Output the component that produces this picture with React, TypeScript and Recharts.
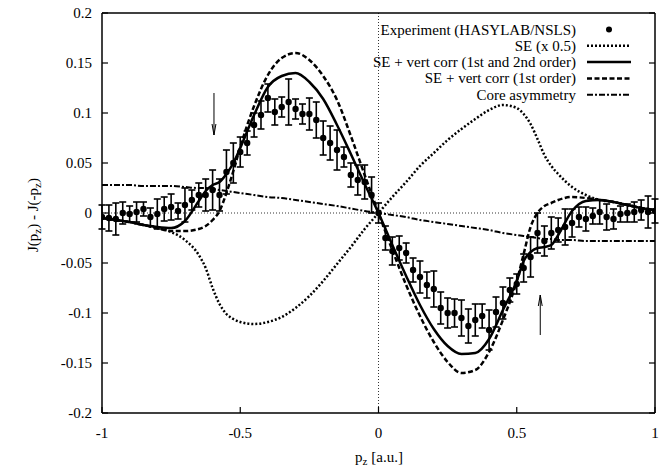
import { ComposedChart, Line, Scatter, ErrorBar, XAxis, YAxis, ReferenceLine } from "recharts";

const FONT = "'Liberation Serif', 'Times New Roman', serif";

// theory curves, sampled on a common p_z grid
const curveX = [
  -1, -0.95, -0.9, -0.85, -0.8, -0.75, -0.7, -0.65, -0.625, -0.6, -0.575, -0.55, -0.525, -0.5,
  -0.45, -0.4, -0.35, -0.3, -0.25, -0.2, -0.15, -0.1, -0.05, 0,
  0.05, 0.1, 0.15, 0.2, 0.25, 0.3, 0.35, 0.4, 0.45, 0.5, 0.525, 0.55, 0.575, 0.6, 0.625, 0.65,
  0.7, 0.75, 0.8, 0.85, 0.9, 0.95, 1,
];
const seHalf = [
  -0.005, -0.007, -0.009, -0.012, -0.015, -0.019, -0.027, -0.042, -0.055, -0.075, -0.091, -0.101, -0.106, -0.109,
  -0.111, -0.109, -0.104, -0.095, -0.083, -0.068, -0.051, -0.034, -0.016, 0,
  0.016, 0.031, 0.047, 0.06, 0.073, 0.084, 0.094, 0.103, 0.108, 0.105, 0.099, 0.089, 0.074, 0.058, 0.047, 0.039,
  0.026, 0.018, 0.013, 0.011, 0.008, 0.005, 0.003,
];
const vertFull = [
  -0.005, -0.007, -0.009, -0.012, -0.014, -0.015, -0.008, 0.012, 0.022, 0.028, 0.031, 0.039, 0.05, 0.065,
  0.098, 0.126, 0.137, 0.14, 0.131, 0.114, 0.088, 0.059, 0.029, 0,
  -0.032, -0.063, -0.092, -0.116, -0.133, -0.141, -0.14, -0.126, -0.097, -0.068, -0.048, -0.039, -0.035, -0.034, -0.032, -0.022,
  0.002, 0.012, 0.013, 0.011, 0.008, 0.005, 0.003,
];
const vertFirst = [
  -0.005, -0.007, -0.009, -0.012, -0.015, -0.018, -0.018, -0.016, -0.013, -0.007, 0.002, 0.02, 0.042, 0.066,
  0.107, 0.138, 0.155, 0.16, 0.153, 0.137, 0.113, 0.077, 0.038, 0,
  -0.037, -0.072, -0.103, -0.129, -0.149, -0.16, -0.157, -0.139, -0.107, -0.068, -0.041, -0.014, 0.0, 0.007, 0.01, 0.013,
  0.016, 0.015, 0.013, 0.011, 0.008, 0.005, 0.003,
];
const coreAsym = [
  0.028, 0.028, 0.028, 0.027, 0.027, 0.027, 0.026, 0.025, 0.025, 0.024, 0.023, 0.022, 0.021, 0.02,
  0.018, 0.016, 0.015, 0.013, 0.011, 0.009, 0.007, 0.0045, 0.002, 0,
  -0.002, -0.004, -0.007, -0.009, -0.011, -0.013, -0.015, -0.017, -0.02, -0.022, -0.023, -0.024, -0.025, -0.026, -0.026, -0.027,
  -0.027, -0.028, -0.028, -0.028, -0.028, -0.028, -0.028,
];

// experiment (HASYLAB/NSLS)
const expX = [
  -1, -0.975, -0.95, -0.925, -0.9, -0.875, -0.85, -0.825, -0.8, -0.775,
  -0.75, -0.725, -0.7, -0.675, -0.65, -0.625, -0.6, -0.575, -0.55, -0.525,
  -0.5, -0.475, -0.45, -0.425, -0.4, -0.375, -0.35, -0.325, -0.3, -0.275,
  -0.25, -0.225, -0.2, -0.175, -0.15, -0.125, -0.1, -0.075, -0.05, -0.025,
  0,
  0.025, 0.05, 0.075, 0.1, 0.125, 0.15, 0.175, 0.2, 0.225, 0.25,
  0.275, 0.3, 0.325, 0.35, 0.375, 0.4, 0.425, 0.45, 0.475, 0.5,
  0.525, 0.55, 0.575, 0.6, 0.625, 0.65, 0.675, 0.7, 0.725, 0.75,
  0.775, 0.8, 0.825, 0.85, 0.875, 0.9, 0.925, 0.95, 0.975, 1,
];
const expY = [
  -0.004, -0.005, -0.006, 0.0, -0.001, 0.001, 0.004, -0.004, -0.001, 0.004,
  0.006, 0.002, 0.008, 0.013, 0.018, 0.018, 0.023, 0.018, 0.041, 0.05,
  0.061, 0.07, 0.088, 0.098, 0.115, 0.101, 0.106, 0.111, 0.104, 0.099,
  0.099, 0.093, 0.075, 0.07, 0.063, 0.056, 0.038, 0.033, 0.031, 0.018,
  0.0,
  -0.025, -0.038, -0.035, -0.04, -0.057, -0.064, -0.072, -0.076, -0.095, -0.1,
  -0.1, -0.105, -0.113, -0.107, -0.103, -0.117, -0.099, -0.09, -0.077, -0.071,
  -0.055, -0.044, -0.02, -0.028, -0.02, -0.017, -0.014, -0.01, -0.004, -0.006,
  -0.003, 0.001, -0.004, -0.006, -0.001, 0.0, 0.001, 0.003, 0.001, 0.002,
];
const expErr = [
  0.012, 0.013, 0.016, 0.011, 0.008, 0.01, 0.007, 0.009, 0.015, 0.012,
  0.013, 0.008, 0.017, 0.01, 0.012, 0.016, 0.02, 0.016, 0.022, 0.02,
  0.015, 0.012, 0.012, 0.014, 0.014, 0.013, 0.01, 0.023, 0.01, 0.01,
  0.016, 0.018, 0.017, 0.017, 0.02, 0.01, 0.012, 0.015, 0.017, 0.018,
  0.01,
  0.012, 0.014, 0.012, 0.01, 0.012, 0.016, 0.013, 0.018, 0.016, 0.015,
  0.014, 0.018, 0.017, 0.016, 0.012, 0.02, 0.015, 0.016, 0.012, 0.01,
  0.014, 0.02, 0.02, 0.015, 0.016, 0.012, 0.018, 0.014, 0.01, 0.012,
  0.008, 0.012, 0.013, 0.01, 0.008, 0.009, 0.01, 0.01, 0.016, 0.012,
];

const xTicks = [-1, -0.5, 0, 0.5, 1];
const yTicks = [-0.2, -0.15, -0.1, -0.05, 0, 0.05, 0.1, 0.15, 0.2];

// the two vertical arrows
const arrowX = [-0.595, 0.585];
const arrowTail = [0.12, -0.122];
const arrowTip = [0.078, -0.082];

const legendLabels = [
  "Experiment (HASYLAB/NSLS)",
  "SE (x 0.5)",
  "SE + vert corr (1st and 2nd order)",
  "SE + vert corr (1st order)",
  "Core asymmetry",
];

const curveData = curveX.map((x, i) => ({
  x,
  se: seHalf[i],
  full: vertFull[i],
  first: vertFirst[i],
  core: coreAsym[i],
}));
const expData = expX.map((x, i) => ({ x, y: expY[i], err: expErr[i] }));

const DOTTED = "2 2";
const DASHED = "5 2.5";
const DASHDOT = "6 2 2 2";

function LeftTick(props: any) {
  const { x, y, payload } = props;
  return (
    <g>
      <line x1={x + 10} x2={x + 16} y1={y} y2={y} stroke="#000" strokeWidth={1.2} />
      <text x={x} y={y} textAnchor="end" dominantBaseline="central" fontSize={15} fontFamily={FONT} fill="#000">
        {payload.value}
      </text>
    </g>
  );
}

function RightTick(props: any) {
  const { x, y } = props;
  return <line x1={x - 6} x2={x} y1={y} y2={y} stroke="#000" strokeWidth={1.2} />;
}

function BottomTick(props: any) {
  const { x, y, payload } = props;
  return (
    <g>
      <line x1={x} x2={x} y1={y - 20} y2={y - 26} stroke="#000" strokeWidth={1.2} />
      <text x={x} y={y} textAnchor="middle" dominantBaseline="central" fontSize={15} fontFamily={FONT} fill="#000">
        {payload.value}
      </text>
    </g>
  );
}

function TopTick(props: any) {
  const { x, y } = props;
  return <line x1={x} x2={x} y1={y} y2={y + 6} stroke="#000" strokeWidth={1.2} />;
}

function Overlay() {
  const rowY = (i: number) => 29.5 + i * 16.3;
  const dashes = [null, DOTTED, undefined, DASHED, DASHDOT];
  return (
    <svg width={660} height={470} style={{ position: "absolute", left: 0, top: 0, pointerEvents: "none" }}>
      {legendLabels.map((label, i) => (
        <g key={label}>
          <text x={576} y={rowY(i)} textAnchor="end" dominantBaseline="central" fontSize={15} fontFamily={FONT} fill="#000">
            {label}
          </text>
          {i === 0 ? (
            <circle cx={609} cy={rowY(i)} r={3} fill="#000" />
          ) : (
            <line
              x1={587}
              x2={631}
              y1={rowY(i)}
              y2={rowY(i)}
              stroke="#000"
              strokeWidth={i === 4 ? 2 : 2.5}
              strokeDasharray={dashes[i] || undefined}
            />
          )}
        </g>
      ))}
      <text
        x={33}
        y={215}
        transform="rotate(-90 33 215)"
        textAnchor="middle"
        dominantBaseline="central"
        fontSize={15}
        fontFamily={FONT}
        fill="#000"
      >
        J(p<tspan dy={4} fontSize={11}>z</tspan>
        <tspan dy={-4}>) - J(-p</tspan>
        <tspan dy={4} fontSize={11}>z</tspan>
        <tspan dy={-4}>)</tspan>
      </text>
      <text x={379} y={457} textAnchor="middle" dominantBaseline="central" fontSize={15} fontFamily={FONT} fill="#000">
        p<tspan dy={4} fontSize={11}>z</tspan>
        <tspan dy={-4}> [a.u.]</tspan>
      </text>
    </svg>
  );
}

export default function App() {
  return (
    <div style={{ position: "absolute", left: 0, top: 0, width: 660, height: 470, background: "#fff" }}>
      <ComposedChart width={660} height={470} margin={{ top: 8, right: 0, bottom: 27, left: 40 }}>
        <XAxis
          type="number"
          dataKey="x"
          domain={[-1, 1]}
          ticks={xTicks}
          allowDataOverflow
          height={30}
          tickSize={0}
          tickMargin={20}
          tickLine={false}
          tick={<BottomTick />}
          axisLine={{ stroke: "#000", strokeWidth: 1.5 }}
        />
        <XAxis
          xAxisId="top"
          orientation="top"
          type="number"
          domain={[-1, 1]}
          ticks={xTicks}
          allowDataOverflow
          height={5}
          tickSize={0}
          tickMargin={0}
          tickLine={false}
          tick={<TopTick />}
          axisLine={{ stroke: "#000", strokeWidth: 1.5 }}
        />
        <YAxis
          type="number"
          domain={[-0.2, 0.2]}
          ticks={yTicks}
          allowDataOverflow
          width={62}
          tickSize={0}
          tickMargin={10}
          tickLine={false}
          tick={<LeftTick />}
          axisLine={{ stroke: "#000", strokeWidth: 1.5 }}
        />
        <YAxis
          yAxisId="right"
          orientation="right"
          type="number"
          domain={[-0.2, 0.2]}
          ticks={yTicks}
          allowDataOverflow
          width={5}
          tickSize={0}
          tickMargin={0}
          tickLine={false}
          tick={<RightTick />}
          axisLine={{ stroke: "#000", strokeWidth: 1.5 }}
        />
        <ReferenceLine y={0} stroke="#000" strokeWidth={0.8} strokeDasharray="1 2" />
        <ReferenceLine x={0} stroke="#000" strokeWidth={0.8} strokeDasharray="1 2" />
        {arrowX.map((ax, i) => {
          const dir = arrowTip[i] > arrowTail[i] ? 1 : -1;
          const back = arrowTip[i] - dir * 0.011;
          return [
            <ReferenceLine key={`s${i}`} segment={[{ x: ax, y: arrowTail[i] }, { x: ax, y: arrowTip[i] }]} stroke="#000" strokeWidth={1} />,
            <ReferenceLine key={`l${i}`} segment={[{ x: ax - 0.007, y: back }, { x: ax, y: arrowTip[i] }]} stroke="#000" strokeWidth={1} />,
            <ReferenceLine key={`r${i}`} segment={[{ x: ax + 0.007, y: back }, { x: ax, y: arrowTip[i] }]} stroke="#000" strokeWidth={1} />,
          ];
        })}
        <Line data={curveData} dataKey="core" type="monotone" stroke="#000" strokeWidth={2} strokeDasharray={DASHDOT} dot={false} activeDot={false} isAnimationActive={false} />
        <Line data={curveData} dataKey="se" type="monotone" stroke="#000" strokeWidth={2.5} strokeDasharray={DOTTED} dot={false} activeDot={false} isAnimationActive={false} />
        <Line data={curveData} dataKey="first" type="monotone" stroke="#000" strokeWidth={2.5} strokeDasharray={DASHED} dot={false} activeDot={false} isAnimationActive={false} />
        <Line data={curveData} dataKey="full" type="monotone" stroke="#000" strokeWidth={2.5} dot={false} activeDot={false} isAnimationActive={false} />
        <Scatter
          data={expData}
          dataKey="y"
          isAnimationActive={false}
          shape={(p: any) => <circle cx={p.cx} cy={p.cy} r={3.2} fill="#000" />}
        >
          <ErrorBar dataKey="err" direction="y" width={3.5} stroke="#000" strokeWidth={1.6} />
        </Scatter>
      </ComposedChart>
      <Overlay />
    </div>
  );
}
